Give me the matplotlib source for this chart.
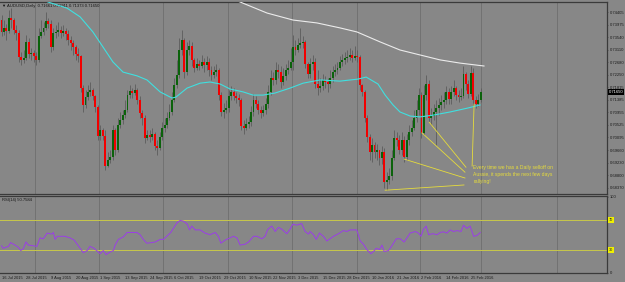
import numpy as np
import matplotlib
matplotlib.use("Agg")
import matplotlib.pyplot as plt
import matplotlib.transforms as mtransforms

# AUDUSD daily candles (open of each bar = previous close)
first_open = 0.7413
closes = [0.7372, 0.7386, 0.7375, 0.7420, 0.7413, 0.7379, 0.7368, 0.7286, 0.7276, 0.7282,
          0.7338, 0.7296, 0.7300, 0.7289, 0.7276, 0.7358, 0.7372, 0.7386, 0.7410, 0.7399,
          0.7320, 0.7368, 0.7372, 0.7379, 0.7368, 0.7375, 0.7365, 0.7344, 0.7334, 0.7320,
          0.7296, 0.7289, 0.7179, 0.7121, 0.7148, 0.7166, 0.7172, 0.7152, 0.7114, 0.7014,
          0.7035, 0.7014, 0.6911, 0.6932, 0.6942, 0.7035, 0.6966, 0.7052, 0.7069, 0.7086,
          0.7104, 0.7155, 0.7169, 0.7162, 0.7172, 0.7138, 0.7093, 0.7076, 0.7007, 0.7018,
          0.7011, 0.7021, 0.6980, 0.6973, 0.7011, 0.7042, 0.7052, 0.7076, 0.7097, 0.7138,
          0.7190, 0.7224, 0.7310, 0.7344, 0.7234, 0.7310, 0.7324, 0.7276, 0.7248, 0.7262,
          0.7255, 0.7269, 0.7258, 0.7269, 0.7241, 0.7224, 0.7234, 0.7241, 0.7155, 0.7097,
          0.7104, 0.7110, 0.7152, 0.7166, 0.7152, 0.7145, 0.7138, 0.7049, 0.7042, 0.7055,
          0.7062, 0.7097, 0.7138, 0.7124, 0.7104, 0.7093, 0.7104, 0.7124, 0.7166, 0.7214,
          0.7207, 0.7241, 0.7234, 0.7200, 0.7221, 0.7241, 0.7248, 0.7269, 0.7320, 0.7310,
          0.7327, 0.7334, 0.7338, 0.7262, 0.7227, 0.7262, 0.7269, 0.7193, 0.7179, 0.7186,
          0.7207, 0.7200, 0.7193, 0.7214, 0.7234, 0.7241, 0.7248, 0.7269, 0.7276, 0.7282,
          0.7286, 0.7293, 0.7282, 0.7289, 0.7286, 0.7190, 0.7166, 0.7076, 0.7011, 0.6959,
          0.6983, 0.6959, 0.6966, 0.6939, 0.6959, 0.6856, 0.6863, 0.6877, 0.6939, 0.7007,
          0.7000, 0.6966, 0.7000, 0.6942, 0.7000, 0.7028, 0.7042, 0.7076, 0.7104, 0.7155,
          0.7024, 0.7155, 0.7193, 0.7076, 0.7083, 0.7097, 0.7110, 0.7121, 0.7131, 0.7138,
          0.7166, 0.7141, 0.7166, 0.7179, 0.7155, 0.7148, 0.7152, 0.7227, 0.7193, 0.7159,
          0.7231, 0.7138, 0.7124, 0.7138, 0.7165]
highs = [0.7430, 0.7413, 0.7399, 0.7448, 0.7454, 0.7420, 0.7396, 0.7379, 0.7303, 0.7310,
         0.7362, 0.7351, 0.7317, 0.7310, 0.7303, 0.7386, 0.7413, 0.7406, 0.7441, 0.7420,
         0.7413, 0.7386, 0.7396, 0.7406, 0.7393, 0.7396, 0.7386, 0.7379, 0.7358, 0.7344,
         0.7327, 0.7317, 0.7293, 0.7190, 0.7172, 0.7190, 0.7200, 0.7179, 0.7155, 0.7121,
         0.7052, 0.7042, 0.7035, 0.6959, 0.6966, 0.7052, 0.7042, 0.7076, 0.7097, 0.7104,
         0.7138, 0.7172, 0.7190, 0.7179, 0.7193, 0.7179, 0.7152, 0.7104, 0.7086, 0.7035,
         0.7035, 0.7042, 0.7028, 0.7000, 0.7028, 0.7062, 0.7076, 0.7097, 0.7124, 0.7166,
         0.7214, 0.7276, 0.7351, 0.7379, 0.7351, 0.7338, 0.7344, 0.7338, 0.7282, 0.7282,
         0.7276, 0.7293, 0.7282, 0.7289, 0.7282, 0.7255, 0.7255, 0.7262, 0.7248, 0.7166,
         0.7128, 0.7138, 0.7172, 0.7186, 0.7179, 0.7166, 0.7159, 0.7145, 0.7069, 0.7076,
         0.7083, 0.7117, 0.7159, 0.7152, 0.7138, 0.7117, 0.7121, 0.7145, 0.7190, 0.7241,
         0.7234, 0.7269, 0.7262, 0.7255, 0.7248, 0.7262, 0.7276, 0.7317, 0.7362, 0.7344,
         0.7351, 0.7386, 0.7358, 0.7344, 0.7269, 0.7282, 0.7293, 0.7282, 0.7241, 0.7214,
         0.7227, 0.7221, 0.7214, 0.7241, 0.7255, 0.7262, 0.7269, 0.7289, 0.7296, 0.7303,
         0.7310, 0.7317, 0.7310, 0.7324, 0.7310, 0.7293, 0.7193, 0.7172, 0.7086, 0.7021,
         0.7007, 0.6994, 0.6987, 0.6966, 0.6980, 0.6973, 0.6890, 0.6904, 0.6966, 0.7035,
         0.7028, 0.7018, 0.7028, 0.7014, 0.7021, 0.7052, 0.7069, 0.7104, 0.7138, 0.7179,
         0.7166, 0.7190, 0.7224, 0.7207, 0.7110, 0.7124, 0.7138, 0.7145, 0.7155, 0.7166,
         0.7186, 0.7179, 0.7186, 0.7207, 0.7186, 0.7172, 0.7179, 0.7255, 0.7234, 0.7207,
         0.7255, 0.7248, 0.7152, 0.7159, 0.7179]
lows = [0.7358, 0.7362, 0.7344, 0.7368, 0.7386, 0.7365, 0.7344, 0.7269, 0.7258, 0.7265,
        0.7276, 0.7282, 0.7276, 0.7269, 0.7258, 0.7269, 0.7351, 0.7362, 0.7379, 0.7386,
        0.7303, 0.7310, 0.7351, 0.7358, 0.7351, 0.7358, 0.7344, 0.7327, 0.7310, 0.7293,
        0.7276, 0.7269, 0.7166, 0.7097, 0.7110, 0.7138, 0.7152, 0.7138, 0.7097, 0.7000,
        0.7000, 0.7000, 0.6897, 0.6907, 0.6921, 0.6932, 0.6949, 0.6959, 0.7042, 0.7055,
        0.7076, 0.7097, 0.7145, 0.7145, 0.7155, 0.7124, 0.7076, 0.7052, 0.6990, 0.7000,
        0.6994, 0.7000, 0.6966, 0.6949, 0.6966, 0.7000, 0.7028, 0.7042, 0.7069, 0.7086,
        0.7131, 0.7179, 0.7214, 0.7293, 0.7214, 0.7224, 0.7293, 0.7255, 0.7234, 0.7241,
        0.7241, 0.7248, 0.7234, 0.7241, 0.7221, 0.7207, 0.7214, 0.7221, 0.7138, 0.7083,
        0.7076, 0.7093, 0.7097, 0.7138, 0.7138, 0.7128, 0.7117, 0.7035, 0.7021, 0.7035,
        0.7042, 0.7049, 0.7083, 0.7110, 0.7090, 0.7076, 0.7083, 0.7090, 0.7110, 0.7155,
        0.7190, 0.7193, 0.7214, 0.7179, 0.7190, 0.7207, 0.7227, 0.7241, 0.7241, 0.7293,
        0.7303, 0.7317, 0.7317, 0.7248, 0.7214, 0.7214, 0.7241, 0.7179, 0.7155, 0.7166,
        0.7172, 0.7179, 0.7166, 0.7179, 0.7200, 0.7221, 0.7227, 0.7241, 0.7255, 0.7262,
        0.7269, 0.7276, 0.7269, 0.7276, 0.7269, 0.7172, 0.7152, 0.7062, 0.6994, 0.6932,
        0.6925, 0.6939, 0.6932, 0.6914, 0.6918, 0.6835, 0.6828, 0.6849, 0.6863, 0.6932,
        0.6980, 0.6952, 0.6949, 0.6925, 0.6932, 0.6983, 0.7014, 0.7035, 0.7062, 0.7086,
        0.7007, 0.7018, 0.7138, 0.7062, 0.7052, 0.7069, 0.6983, 0.7086, 0.7104, 0.7110,
        0.7124, 0.7124, 0.7124, 0.7152, 0.7138, 0.7131, 0.7138, 0.7145, 0.7172, 0.7145,
        0.7152, 0.7121, 0.7110, 0.7117, 0.7131]

# moving averages (bar index, price)
ma_fast_bar = [15.6, 18.8, 26.5, 31.8, 37.0, 41.1, 45.1, 49.2, 54.9, 58.9, 64.2, 69.0, 70.6,
               75.1, 80.4, 84.4, 88.5, 92.5, 97.8, 101.8, 105.9, 110.7, 116.8, 122.1, 128.9,
               137.0, 144.3, 147.6, 152.4, 155.3, 158.5, 161.3, 165.4, 169.4, 174.7, 181.6,
               188.5, 193.7]
ma_fast = [0.7492, 0.7475, 0.7454, 0.7424, 0.7372, 0.7320, 0.7269, 0.7234, 0.7221, 0.7207,
           0.7166, 0.7145, 0.7148, 0.7179, 0.7196, 0.7200, 0.7193, 0.7176, 0.7166, 0.7155,
           0.7155, 0.7162, 0.7179, 0.7196, 0.7207, 0.7203, 0.7210, 0.7217, 0.7193, 0.7155,
           0.7121, 0.7097, 0.7083, 0.7080, 0.7086, 0.7097, 0.7110, 0.7121]
ma_slow_bar = [90.5, 93.7, 100.6, 107.5, 118.0, 127.7, 137.0, 143.9, 153.2, 161.3, 169.4,
               177.5, 185.6, 195.3]
ma_slow = [0.7496, 0.7485, 0.7461, 0.7437, 0.7413, 0.7403, 0.7386, 0.7372, 0.7338, 0.7310,
           0.7293, 0.7276, 0.7265, 0.7255]

# RSI(14)
rsi_bar = [0, 0.7, 2.8, 3.7, 5.5, 6.8, 7.8, 8.8, 9.9, 10.9, 12.9, 14.3, 15.6, 16.9, 18.5,
           20.3, 21.0, 21.7, 22.6, 25.7, 27.7, 29.4, 31.1, 33.1, 34.7, 35.8, 37.5, 39.2,
           39.9, 41.2, 42.3, 43.9, 45.3, 46.0, 47.3, 49.3, 50.9, 52.7, 54.8, 56.1, 57.4,
           58.8, 60.8, 62.2, 64.2, 65.5, 66.9, 68.5, 69.6, 71.0, 72.3, 73.6, 75.2, 76.1,
           77.0, 78.4, 80.4, 82.4, 84.4, 86.5, 87.8, 88.8, 90.5, 92.5, 93.9, 95.3, 96.6,
           98.6, 100.0, 102.0, 103.4, 105.4, 106.7, 107.8, 109.4, 110.8, 112.1, 113.5,
           115.5, 116.8, 117.9, 119.5, 121.5, 122.9, 124.3, 124.9, 126.3, 127.4, 128.7,
           130.3, 131.7, 133.0, 134.4, 136.4, 138.4, 139.8, 141.1, 143.8, 145.2, 146.5,
           147.9, 149.5, 150.6, 151.7, 153.0, 154.0, 154.9, 156.7, 158.0, 159.8, 161.4,
           163.0, 164.1, 165.4, 167.5, 168.8, 169.8, 170.8, 171.9, 172.9, 174.6, 176.3,
           177.6, 178.9, 180.3, 181.6, 183.0, 184.4, 186.0, 187.0, 188.4, 189.7, 191.1,
           192.4, 193.8]
rsi = [35.8, 32.5, 35.0, 40.0, 36.7, 33.8, 29.6, 31.7, 40.8, 36.7, 35.8, 35.0, 46.2, 45.0,
       52.5, 51.2, 53.3, 44.2, 48.3, 48.3, 46.2, 43.3, 35.8, 26.7, 29.6, 35.0, 32.5, 27.5,
       25.4, 29.6, 24.2, 27.5, 29.6, 36.7, 44.2, 47.5, 53.3, 53.3, 53.3, 50.4, 44.2, 39.2,
       40.0, 40.8, 44.2, 44.2, 48.3, 53.3, 58.8, 65.8, 69.2, 68.3, 64.2, 56.7, 61.7, 56.7,
       56.7, 52.5, 50.4, 53.3, 48.3, 39.2, 43.3, 46.2, 48.3, 46.2, 36.7, 37.9, 40.8, 48.3,
       48.3, 45.0, 48.3, 57.5, 61.7, 54.6, 60.0, 57.5, 51.7, 57.5, 64.2, 62.9, 65.0, 54.6,
       51.2, 54.6, 50.4, 44.2, 52.5, 48.3, 42.1, 45.0, 48.3, 51.7, 55.8, 54.6, 56.7, 56.7,
       42.1, 37.9, 30.8, 25.4, 28.3, 32.5, 30.8, 36.7, 28.3, 29.6, 35.8, 45.0, 45.0, 40.8,
       46.2, 52.5, 54.6, 52.5, 48.3, 57.5, 61.7, 50.4, 51.7, 50.4, 53.3, 54.2, 52.5, 56.7,
       54.6, 55.8, 54.6, 62.9, 58.8, 61.7, 48.3, 49.2, 53.3]
rsi_levels = [70, 30]

# annotation trendlines ((bar, price), (bar, price))
trend_lines = [((155.3, 0.6828), (187.2, 0.6846)),
               ((163.0, 0.6935), (187.6, 0.6870)),
               ((170.2, 0.7025), (187.6, 0.6890)),
               ((173.1, 0.7062), (188.0, 0.6907)),
               ((190.5, 0.6911), (191.3, 0.7124))]
note = "Every time we has a Daily selloff on\nAussie, it spends the next few days\nrallying!"

price_ticks = [0.74405, 0.73975, 0.73540, 0.73110, 0.72680, 0.72250, 0.71815, 0.71385,
               0.70955, 0.70525, 0.70095, 0.69660, 0.69230, 0.68800, 0.68370]
date_ticks = list(range(0, 200, 10))
date_labels = ["16 Jul 2015", "28 Jul 2015", "9 Aug 2015", "20 Aug 2015", "1 Sep 2015",
               "13 Sep 2015", "24 Sep 2015", "6 Oct 2015", "19 Oct 2015", "29 Oct 2015",
               "10 Nov 2015", "22 Nov 2015", "3 Dec 2015", "15 Dec 2015", "28 Dec 2015",
               "10 Jan 2016", "21 Jan 2016", "2 Feb 2016", "14 Feb 2016", "25 Feb 2016"]
month_lines = [13.6, 39.5, 65.4, 91.7, 117.6, 143.9, 169.4, 194.1, 224.9]

bg = "#878787"
grid_c = "#6f6f6f"
edge_c = "#3a3a3a"
up_c = "#0b620b"
down_c = "#f20000"
wick_c = "#5c5c5c"
yellow = "#e6dc3c"
fnt = "Liberation Sans"

fig = plt.figure(figsize=(6.25, 2.82), dpi=100, facecolor=bg)
ax = fig.add_axes([0, 1 - 194 / 282, 607 / 625, 192 / 282], facecolor=bg)
ax2 = fig.add_axes([0, 1 - 273 / 282, 607 / 625, 77 / 282], facecolor=bg)

n = len(closes)
x = np.arange(n)
c = np.array(closes)
o = np.concatenate([[first_open], c[:-1]])
hi = np.maximum(np.array(highs), np.maximum(o, c))
lo = np.minimum(np.array(lows), np.minimum(o, c))
up = c >= o

ax.vlines(x, lo, hi, color=wick_c, lw=0.6, zorder=2)
body_bot = np.minimum(o, c)
body_h = np.maximum(np.abs(c - o), 0.00012)
ax.bar(x, body_h, bottom=body_bot, width=0.78,
       color=np.where(up, up_c, down_c), linewidth=0, zorder=3)

ax.plot(ma_fast_bar, ma_fast, color="#3fe0e0", lw=0.8, zorder=4)
ax.plot(ma_slow_bar, ma_slow, color="#ececec", lw=0.8, zorder=4)

for (x0, y0), (x1, y1) in trend_lines:
    ax.plot([x0, x1], [y0, y1], color=yellow, lw=0.6, zorder=5)
ax.text(191.0, 0.6914, note, color=yellow, fontsize=3.6, family=fnt,
        va="top", ha="left", linespacing=1.45, zorder=6)

xl = (-0.61, 245.1)
for a in (ax, ax2):
    a.set_xlim(*xl)
    for xm in month_lines:
        a.axvline(xm, color=grid_c, lw=0.6, zorder=1)
    a.spines["left"].set_visible(False)
    for s in ("top", "right", "bottom"):
        a.spines[s].set_color(edge_c)
        a.spines[s].set_linewidth(0.9)

ax.set_ylim(0.6815, 0.7475)
ax.yaxis.tick_right()
ax.set_yticks(price_ticks)
ax.set_yticklabels([f"{p:.5f}" for p in price_ticks], family=fnt)
ax.tick_params(axis="y", length=1.0, width=0.4, colors=edge_c, labelsize=3.0, pad=0.8,
               labelcolor="#1a1a1a")
ax.set_xticks([])
right_tr = mtransforms.blended_transform_factory(ax.transAxes, ax.transData)
ax.text(1.0 + 2 / 607, 0.7165, "0.71650", transform=right_tr,
        fontsize=3.0, color="white", va="center", ha="left", family=fnt,
        bbox=dict(boxstyle="square,pad=0.2", fc="black", ec="none"), clip_on=False, zorder=10)
ax.text(0.004, 0.992, "\u25bc AUDUSD,Daily  0.71661 0.71911 0.71373 0.71650",
        transform=ax.transAxes, fontsize=3.0, color="#111111", va="top", ha="left", family=fnt)

# RSI panel
ax2.set_ylim(1.3, 101.3)
for lv in rsi_levels:
    ax2.axhline(lv, color="#c8c84a", lw=0.7, zorder=2)
ax2.plot(rsi_bar, rsi, color="#9b3de8", lw=0.7, zorder=3)
ax2.yaxis.tick_right()
ax2.set_yticks([100, 0])
ax2.set_yticklabels(["100", "0"], family=fnt)
ax2.tick_params(axis="y", length=1.0, width=0.4, colors=edge_c, labelsize=3.0, pad=0.8,
                labelcolor="#1a1a1a")
rsi_tr = mtransforms.blended_transform_factory(ax2.transAxes, ax2.transData)
for lv in rsi_levels:
    ax2.text(1.0 + 2 / 607, lv, str(lv), transform=rsi_tr,
             fontsize=2.8, color="#222222", va="center", ha="left", family=fnt,
             bbox=dict(boxstyle="square,pad=0.2", fc="#f0f000", ec="none"), clip_on=False)
ax2.text(0.004, 0.975, "RSI(14) 50.7584", transform=ax2.transAxes, fontsize=3.0,
         color="#111111", va="top", ha="left", family=fnt)
ax2.set_xticks(date_ticks)
ax2.set_xticklabels(date_labels, ha="left", family=fnt)
ax2.tick_params(axis="x", length=0, labelsize=2.9, pad=2.5, labelcolor="#1a1a1a")

fig.savefig("out.png", dpi=100, facecolor=bg)
